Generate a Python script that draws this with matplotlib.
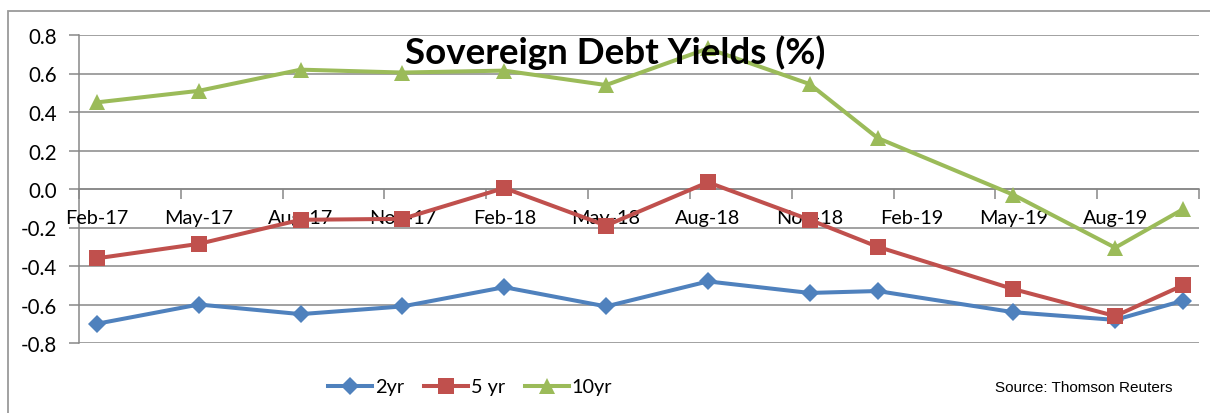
import matplotlib
matplotlib.use("Agg")
import matplotlib.pyplot as plt
from matplotlib.patches import Rectangle

plt.rcParams['axes.unicode_minus'] = False
plt.rcParams['font.family'] = ['Lato', 'DejaVu Sans']

# ---- data ----
dates = ["2017-02", "2017-05", "2017-08", "2017-11", "2018-02", "2018-05",
         "2018-08", "2018-11", "2019-01", "2019-05", "2019-08", "2019-10"]
yield_2yr = [-0.70, -0.60, -0.65, -0.61, -0.51, -0.61, -0.48, -0.54, -0.53, -0.64, -0.68, -0.58]
yield_5yr = [-0.36, -0.285, -0.16, -0.155, 0.005, -0.19, 0.035, -0.16, -0.30, -0.52, -0.66, -0.50]
yield_10yr = [0.45, 0.51, 0.62, 0.605, 0.615, 0.54, 0.73, 0.545, 0.265, -0.03, -0.305, -0.105]
tick_labels = ["Feb-17", "May-17", "Aug-17", "Nov-17", "Feb-18", "May-18",
               "Aug-18", "Nov-18", "Feb-19", "May-19", "Aug-19"]
series_names = ["2yr", "5 yr", "10yr"]
colors = ["#4F81BD", "#C0504D", "#9BBB59"]
markers = ["D", "s", "^"]
title = "Sovereign Debt Yields (%)"
source = "Source: Thomson Reuters"


def month_index(s, base="2017-02"):
    y, m = map(int, s.split("-"))
    by, bm = map(int, base.split("-"))
    return (y - by) * 12 + (m - bm)


x = [month_index(d) for d in dates]
label_pos = [3 * i for i in range(len(tick_labels))]

fig = plt.figure(figsize=(12.1, 4.14), dpi=100)
ax = fig.add_axes([79 / 1210, 1 - 344 / 414, (1199 - 79) / 1210, (344 - 36) / 414])

grid_c = "#878787"
ax.set_ylim(-0.8, 0.8)
ax.set_xlim(-0.53, 32.47)
yt = [-0.8 + 0.2 * i for i in range(9)]
ax.set_yticks(yt)
ax.set_yticklabels(["%.1f" % v if abs(v) > 1e-9 else "0.0" for v in yt])
for v in yt:
    ax.axhline(v, color=grid_c, lw=1.1, zorder=1)

ax.set_xticks(label_pos)
ax.set_xticklabels(tick_labels)
ax.set_xticks([-0.53 + 3 * k for k in range(12)], minor=True)
ax.tick_params(axis='x', which='major', length=0, pad=14.5, labelsize=14.3)
ax.tick_params(axis='x', which='minor', length=7, width=1.1, color=grid_c, direction='out')
ax.tick_params(axis='y', length=7, width=1.1, color=grid_c, direction='out', pad=9, labelsize=14.8)

for s in ['top', 'right']:
    ax.spines[s].set_visible(False)
ax.spines['bottom'].set_position(('data', 0))
ax.spines['bottom'].set_color(grid_c)
ax.spines['left'].set_color(grid_c)
ax.spines['bottom'].set_linewidth(1.1)
ax.spines['left'].set_linewidth(1.1)
ax.spines['bottom'].set_zorder(1)
ax.spines['left'].set_zorder(1)

data = [yield_2yr, yield_5yr, yield_10yr]
msizes = [9.5, 11, 12]
handles = []
for vals, name, c, mk, ms in zip(data, series_names, colors, markers, msizes):
    h, = ax.plot(x, vals, color=c, lw=2.9, marker=mk, markersize=ms,
                 markeredgewidth=0, label=name, zorder=3, clip_on=False)
    handles.append(h)

fig.text(615 / 1210, 1 - 53 / 414, title, ha='center', va='center',
         fontsize=26.5, fontweight='bold', color='black')

leg = fig.legend(handles=handles, loc='center', bbox_to_anchor=(470 / 1210, 1 - 388 / 414),
                 ncol=3, frameon=False, fontsize=14.3, handlelength=2.25,
                 handletextpad=0.12, columnspacing=1.0)

fig.text(995 / 1210, 1 - 388 / 414, source, ha='left', va='center',
         fontsize=11, family='Liberation Sans', color='black')

# outer chart frame
fig.patches.append(Rectangle((8 / 1210, -0.1), 1.2, (414 - 11.5) / 414 + 0.1,
                             transform=fig.transFigure, fill=False,
                             edgecolor="#9a9a9a", lw=1.3))

fig.savefig("out.png", dpi=100)
